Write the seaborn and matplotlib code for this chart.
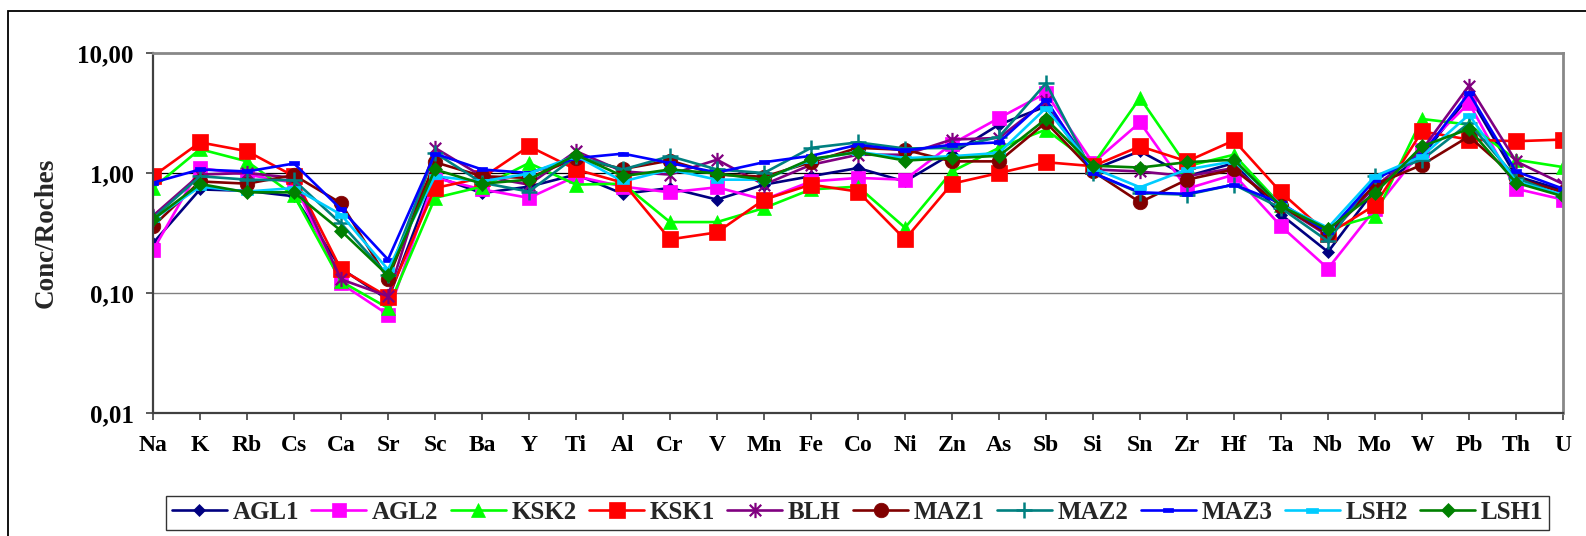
import numpy as np
import pandas as pd
import matplotlib
matplotlib.use("Agg")
import matplotlib.pyplot as plt
from matplotlib.path import Path
from matplotlib.patches import Rectangle
import seaborn as sns

elements = ["Na", "K", "Rb", "Cs", "Ca", "Sr", "Sc", "Ba", "Y", "Ti", "Al", "Cr", "V", "Mn",
            "Fe", "Co", "Ni", "Zn", "As", "Sb", "Si", "Sn", "Zr", "Hf", "Ta", "Nb", "Mo", "W",
            "Pb", "Th", "U"]

AGL1 = [0.26, 0.73, 0.71, 0.64, 0.16, 0.088, 0.94, 0.68, 0.77, 0.97, 0.67, 0.75, 0.60, 0.80,
        0.94, 1.10, 0.85, 1.45, 2.53, 3.59, 1.07, 1.52, 0.94, 1.21, 0.45, 0.22, 0.73, 1.38,
        4.40, 0.94, 0.72]
AGL2 = [0.227, 1.10, 0.97, 0.83, 0.12, 0.066, 0.91, 0.73, 0.62, 0.94, 0.77, 0.69, 0.76, 0.60,
        0.85, 0.91, 0.88, 1.75, 2.87, 4.64, 1.21, 2.64, 0.74, 0.97, 0.36, 0.16, 0.50, 1.56,
        3.83, 0.74, 0.60]
KSK2 = [0.75, 1.58, 1.25, 0.65, 0.125, 0.075, 0.62, 0.77, 1.21, 0.80, 0.815, 0.39, 0.39, 0.51,
        0.73, 0.77, 0.35, 1.03, 1.62, 2.30, 1.17, 4.22, 1.14, 1.42, 0.54, 0.34, 0.44, 2.82,
        2.53, 1.29, 1.12]
KSK1 = [0.94, 1.80, 1.52, 0.94, 0.157, 0.093, 0.75, 0.91, 1.67, 1.07, 0.83, 0.28, 0.32, 0.60,
        0.80, 0.70, 0.28, 0.815, 1.00, 1.23, 1.14, 1.67, 1.25, 1.87, 0.69, 0.31, 0.54, 2.22,
        1.90, 1.84, 1.90]
BLH = [0.44, 0.97, 1.00, 0.91, 0.13, 0.094, 1.62, 0.94, 0.80, 1.52, 1.03, 0.97, 1.29, 0.80,
       1.17, 1.42, 1.42, 1.90, 1.96, 3.96, 1.07, 1.03, 0.94, 1.10, 0.53, 0.30, 0.77, 1.56,
       5.34, 1.25, 0.81]
MAZ1 = [0.36, 0.85, 0.815, 0.96, 0.56, 0.13, 1.23, 0.94, 0.91, 1.33, 1.08, 1.27, 0.97, 0.93,
        1.23, 1.62, 1.56, 1.25, 1.25, 2.64, 1.03, 0.57, 0.88, 1.07, 0.53, 0.31, 0.80, 1.17,
        2.02, 0.91, 0.69]
MAZ2 = [0.42, 0.94, 0.88, 0.87, 0.38, 0.14, 1.47, 0.83, 0.70, 1.38, 1.07, 1.38, 1.07, 1.00,
        1.62, 1.80, 1.60, 1.62, 2.00, 5.60, 1.00, 0.68, 0.66, 0.80, 0.51, 0.27, 0.94, 1.29,
        2.60, 0.91, 0.64]
MAZ3 = [0.83, 1.07, 1.03, 1.20, 0.50, 0.19, 1.45, 1.07, 1.00, 1.33, 1.45, 1.21, 1.01, 1.23,
        1.39, 1.72, 1.54, 1.72, 1.80, 4.09, 1.00, 0.69, 0.67, 0.80, 0.56, 0.32, 0.88, 1.42,
        4.64, 1.03, 0.74]
LSH2 = [0.41, 0.77, 0.70, 0.75, 0.45, 0.157, 0.94, 0.85, 0.99, 1.39, 0.85, 1.07, 0.88, 0.88,
        1.29, 1.50, 1.33, 1.38, 1.47, 3.48, 1.10, 0.76, 1.07, 1.25, 0.54, 0.35, 0.94, 1.38,
        3.06, 0.85, 0.66]
LSH1 = [0.41, 0.81, 0.69, 0.69, 0.33, 0.14, 1.07, 0.815, 0.88, 1.42, 0.94, 1.07, 0.99, 0.88,
        1.31, 1.49, 1.27, 1.33, 1.39, 2.82, 1.15, 1.11, 1.23, 1.29, 0.53, 0.34, 0.68, 1.67,
        2.33, 0.83, 0.64]

series_names = ["AGL1", "AGL2", "KSK2", "KSK1", "BLH", "MAZ1", "MAZ2", "MAZ3", "LSH2", "LSH1"]
series_values = [AGL1, AGL2, KSK2, KSK1, BLH, MAZ1, MAZ2, MAZ3, LSH2, LSH1]

ytick_values = [0.01, 0.1, 1, 10]
ytick_labels = ["0,01", "0,10", "1,00", "10,00"]
y_label = "Conc/Roches"

# ---- styles ----
asterisk = Path([(0, -1), (0, 1), (-0.75, -0.75), (0.75, 0.75), (-0.75, 0.75), (0.75, -0.75)],
                [Path.MOVETO, Path.LINETO, Path.MOVETO, Path.LINETO, Path.MOVETO, Path.LINETO])
dash = Path([(-1, -0.45), (1, -0.45), (1, 0.45), (-1, 0.45), (-1, -0.45)],
            [Path.MOVETO, Path.LINETO, Path.LINETO, Path.LINETO, Path.CLOSEPOLY])

styles = {
    "AGL1": dict(color="#000080", marker="D", ms=6.2, mew=0.5),
    "AGL2": dict(color="#FF00FF", marker="s", ms=10, mew=0.5),
    "KSK2": dict(color="#00FF00", marker="^", ms=10.5, mew=0.5),
    "KSK1": dict(color="#FF0000", marker="s", ms=11, mew=0.5),
    "BLH":  dict(color="#800080", marker=asterisk, ms=11, mew=1.6),
    "MAZ1": dict(color="#800000", marker="o", ms=10.5, mew=0.5),
    "MAZ2": dict(color="#008080", marker="+", ms=11, mew=1.8),
    "MAZ3": dict(color="#0000FF", marker=dash, ms=6.5, mew=0.5),
    "LSH2": dict(color="#00CCFF", marker=dash, ms=8, mew=0.5),
    "LSH1": dict(color="#008000", marker="D", ms=7.6, mew=0.5),
}

sns.set_theme(style="white")
plt.rcParams["font.family"] = ["Liberation Serif", "DejaVu Serif"]
plt.rcParams["font.weight"] = "bold"

W, H = 1586, 536
fig = plt.figure(figsize=(W / 100, H / 100), dpi=100)
fig.patch.set_facecolor("white")
ax = fig.add_axes([153 / W, 1 - 413 / H, (1563 - 153) / W, (413 - 53) / H])

for name, vals in zip(series_names, series_values):
    st = styles[name]
    df = pd.DataFrame({"element": elements, "value": vals})
    sns.lineplot(data=df, x="element", y="value", ax=ax, sort=False, color=st["color"],
                 linewidth=1.9, marker=st["marker"], markersize=st["ms"],
                 markeredgewidth=st["mew"], markeredgecolor=st["color"],
                 markerfacecolor=st["color"], label=name, legend=False)

ax.set_yscale("log")
ax.set_ylim(0.01, 10)
ax.set_xlim(0, len(elements) - 1)
ax.set_yticks(ytick_values)
ax.set_yticklabels(ytick_labels)
ax.yaxis.set_minor_locator(matplotlib.ticker.NullLocator())
ax.set_xticks(range(len(elements)))
ax.set_xticklabels(elements)
ax.set_xlabel("")
ax.set_ylabel(y_label, fontsize=19.5, fontweight="bold", labelpad=13)

ax.axhline(1, color="black", lw=0.9, zorder=0.5)
ax.axhline(0.1, color="#808080", lw=1.0, zorder=0.5)

for s in ["left", "bottom"]:
    ax.spines[s].set_color("#404040")
    ax.spines[s].set_linewidth(1.6)
for s in ["top", "right"]:
    ax.spines[s].set_color("#888888")
    ax.spines[s].set_linewidth(2.0)

ax.tick_params(axis="both", which="major", direction="out", length=5, width=1.2,
               color="#404040", bottom=True, left=True)
ax.tick_params(axis="y", labelsize=18, pad=9)
ax.tick_params(axis="x", labelsize=17, pad=11)
for lab in ax.get_xticklabels() + ax.get_yticklabels():
    lab.set_fontweight("bold")
    lab.set_color("black")

handles, labels = ax.get_legend_handles_labels()
leg = fig.legend(handles, labels, loc="center",
                 bbox_to_anchor=((168 + 1547) / 2 / W, 1 - (493 + 532) / 2 / H),
                 ncol=10, frameon=True, fancybox=False, edgecolor="black",
                 prop={"family": "Liberation Serif", "weight": "bold", "size": 18},
                 handlelength=2.2, handletextpad=0.22, columnspacing=0.5,
                 borderpad=0.22, borderaxespad=0)
leg.get_frame().set_linewidth(1.0)

fig.patches.append(Rectangle((8 / W, -0.05), 1.2, 1 - 11 / H + 0.05, fill=False,
                             edgecolor="black", linewidth=1.3, transform=fig.transFigure,
                             clip_on=False))

fig.savefig("out.png", dpi=100)
